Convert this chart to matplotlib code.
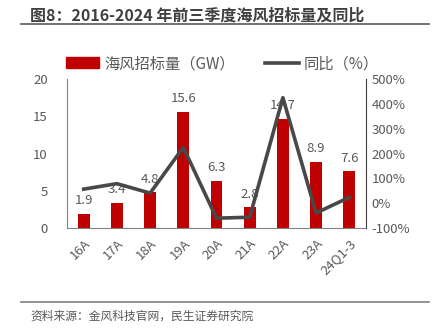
import matplotlib
matplotlib.use("Agg")
import matplotlib.pyplot as plt
from matplotlib.lines import Line2D

plt.rcParams['font.family'] = ['Noto Sans CJK SC', 'DejaVu Sans']

categories = ["16A", "17A", "18A", "19A", "20A", "21A", "22A", "23A", "24Q1-3"]
bid_gw = [1.9, 3.4, 4.8, 15.6, 6.3, 2.8, 14.7, 8.9, 7.6]
yoy_pct = [57, 79, 41, 225, -60, -56, 425, -39, 24]
left_ticks = [0, 5, 10, 15, 20]
right_ticks = [-100, 0, 100, 200, 300, 400, 500]

txt = "#595959"
red = "#C00000"
gray_line = "#484848"

fig = plt.figure(figsize=(4.33, 3.35), dpi=100)
ax = fig.add_axes([0.155, 0.319, 0.69, 0.445])
x = list(range(len(categories)))
ax.bar(x, bid_gw, width=0.35, color=red, zorder=2)
for xi, v in zip(x, bid_gw):
    ax.text(xi, v + 0.9, f"{v:.1f}", ha="center", va="bottom", fontsize=9.5, color=txt, zorder=1)
ax.set_ylim(0, 20)
ax.set_xlim(-0.5, 8.5)
ax.set_yticks(left_ticks)
ax.set_xticks(x)
ax.set_xticklabels(categories, rotation=45, ha="right", rotation_mode="anchor")
ax.tick_params(axis="both", length=0, labelsize=9.5, labelcolor=txt, pad=6)
ax.tick_params(axis="y", pad=14)
for s in ["top", "right"]:
    ax.spines[s].set_visible(False)
ax.spines["left"].set_color("#808080")
ax.spines["bottom"].set_color("#808080")

ax2 = ax.twinx()
ax2.plot(x, yoy_pct, color=gray_line, lw=2.6, zorder=3)
ax2.set_ylim(-100, 500)
ax2.set_yticks(right_ticks)
ax2.set_yticklabels([f"{t}%" for t in right_ticks])
ax2.tick_params(axis="y", length=0, labelsize=9.5, labelcolor=txt, pad=4)
for s in ["top", "left", "bottom"]:
    ax2.spines[s].set_visible(False)
ax2.spines["right"].set_color("#404040")

handles = [plt.Rectangle((0, 0), 1, 1, color=red), Line2D([0], [0], color=gray_line, lw=2.6)]
fig.legend(handles, ["海风招标量（GW）", "同比（%）"], loc="center", bbox_to_anchor=(0.513, 0.81),
           ncol=2, frameon=False, fontsize=11, labelcolor=txt, handlelength=2.2,
           columnspacing=2.0, handletextpad=0.3)

fig.text(0.07, 0.955, "图8：2016-2024 年前三季度海风招标量及同比", fontsize=11.5, fontweight="bold",
         color="#404040", ha="left", va="center")
fig.add_artist(Line2D([0.048, 0.99], [0.927, 0.927], color="#595959", lw=1.2))
fig.add_artist(Line2D([0.048, 0.99], [0.098, 0.098], color="#808080", lw=1.2))
fig.text(0.07, 0.055, "资料来源：金风科技官网，民生证券研究院", fontsize=8.5, color="#595959",
         ha="left", va="center")

fig.savefig("out.png", dpi=100)
